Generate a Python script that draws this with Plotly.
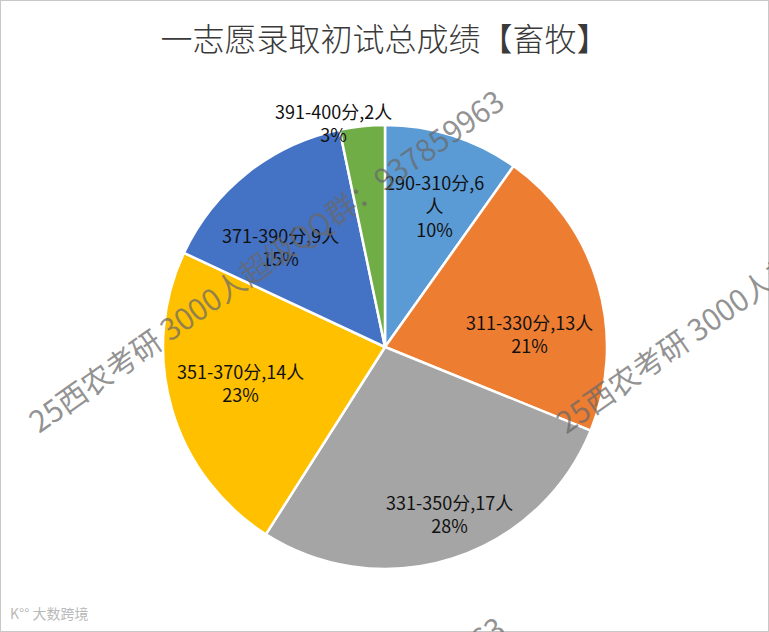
import math
import plotly.graph_objects as go

categories = ["290-310分", "311-330分", "331-350分", "351-370分", "371-390分", "391-400分"]
counts = [6, 13, 17, 14, 9, 2]
percent_labels = ["10%", "21%", "28%", "23%", "15%", "3%"]
colors = ["#5B9BD5", "#ED7D31", "#A5A5A5", "#FFC000", "#4472C4", "#70AD47"]
title_text = "一志愿录取初试总成绩【畜牧】"
watermark = "25西农考研 3000人超级QQ群：937859963"

W, H = 769, 632
# pie geometry (pixels)
CX, CY, R = 385, 347, 222

# label layout: radial fraction and small nudges (pixels), label-only styling
label_frac = [0.66, 0.66, 0.66, 0.66, 0.66, 1.12]
label_nudge = [(5, -2), (4, 27), (20, 27), (-4, -5), (-14, 14), (-26, 23)]

texts = []
for c, n, p in zip(categories, counts, percent_labels):
    if n == 6:
        texts.append(f"{c},{n}<br>人<br>{p}")
    else:
        texts.append(f"{c},{n}人<br>{p}")

fig = go.Figure(go.Pie(
    labels=categories,
    values=counts,
    textinfo="none",
    sort=False,
    direction="clockwise",
    rotation=0,
    marker=dict(colors=colors, line=dict(color="white", width=2.5)),
    showlegend=False,
    hoverinfo="label+value+percent",
    domain=dict(x=[(CX - R) / W, (CX + R) / W], y=[1 - (CY + R) / H, 1 - (CY - R) / H]),
))

annotations = []
total = sum(counts)
cum = 0
for i, n in enumerate(counts):
    mid = (cum + n / 2) / total * 2 * math.pi
    cum += n
    px = CX + R * label_frac[i] * math.sin(mid) + label_nudge[i][0]
    py = CY - R * label_frac[i] * math.cos(mid) + label_nudge[i][1]
    annotations.append(dict(
        text=texts[i], x=px / W, y=1 - py / H, xref="paper", yref="paper",
        xanchor="center", yanchor="middle", showarrow=False, align="center",
        font=dict(family="Noto Sans CJK SC", size=18, color="#111111")))

wm_font = dict(family="Noto Sans CJK SC", size=30, color="rgba(105,105,105,0.72)")
for (wx, wy) in [(265, 260), (793, 260), (266, 787)]:
    annotations.append(dict(text=watermark, x=wx / W, y=1 - wy / H, xref="paper", yref="paper",
                            xanchor="center", yanchor="middle",
                            textangle=-35, showarrow=False, font=wm_font))

annotations.append(dict(text="K°° 大数跨境", x=8 / W, y=1 - 613 / H, xref="paper", yref="paper",
                        xanchor="left", yanchor="middle", showarrow=False,
                        font=dict(family="Noto Sans CJK SC", size=14, color="rgba(175,175,175,0.9)")))

fig.update_layout(
    width=W, height=H,
    margin=dict(l=0, r=0, t=0, b=0),
    paper_bgcolor="white",
    title=dict(text=title_text, x=0.5, xanchor="center", y=1 - 40 / H, yanchor="middle",
               font=dict(family="Noto Sans CJK SC", size=32, color="#3a3a3a", weight=300)),
    annotations=annotations,
    shapes=[dict(type="rect", xref="paper", yref="paper", x0=0, y0=0, x1=1, y1=1,
                 line=dict(color="#C8C8C8", width=2))],
)

fig.write_html("out.html", config={"displayModeBar": False},
               post_script="document.body.style.margin='0';")
